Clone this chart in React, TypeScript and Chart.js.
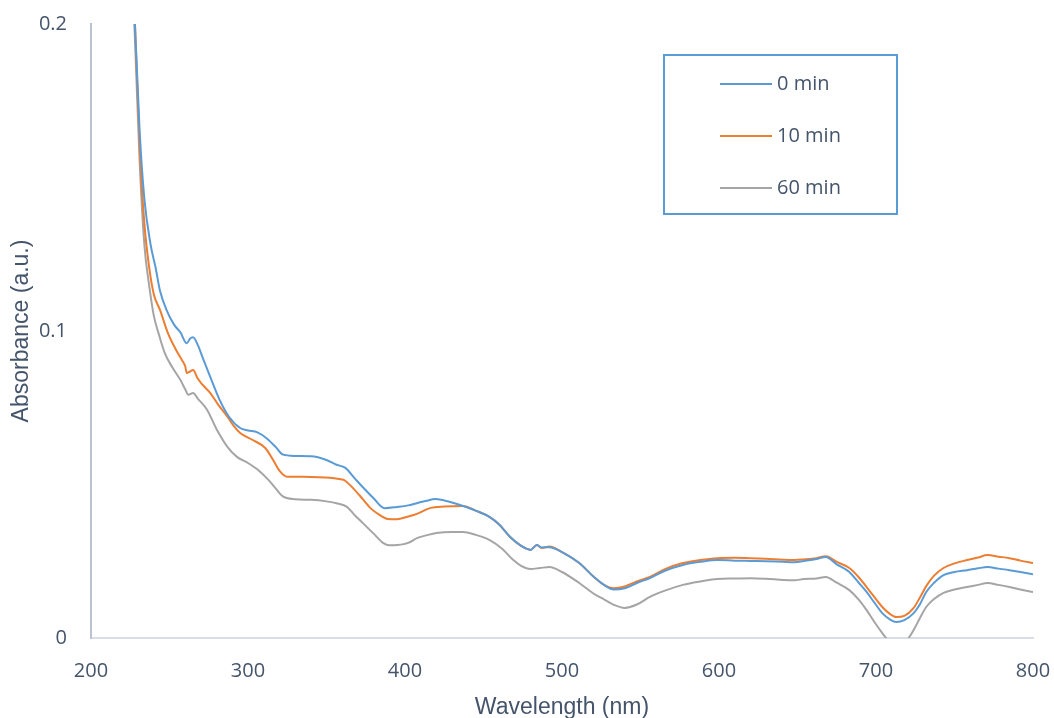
import React, { useEffect, useRef } from "react";
import { Chart, registerables } from "chart.js";

Chart.register(...registerables);

// ---- data ----
const wl0 = [225, 228, 231, 234, 238, 241, 244, 248, 253, 257, 261, 263, 265, 268, 271, 276, 282, 288, 295, 300, 306, 312, 318, 322, 330, 340, 350, 356, 362, 368, 373, 380, 387, 395, 402, 408, 414, 419, 425, 431, 437, 445, 454, 460, 467, 474, 480, 484, 487, 492, 500, 511, 520, 527, 533, 540, 548, 556, 566, 577, 588, 599, 610, 620, 630, 641, 648, 654, 662, 668, 675, 683, 689, 694, 699, 704, 709, 713, 718, 724, 728, 732, 737, 743, 750, 758, 765, 771, 778, 785, 792, 800];
const abs0 = [0.24, 0.2, 0.165, 0.143, 0.128, 0.121, 0.113, 0.107, 0.102, 0.0995, 0.096, 0.0975, 0.098, 0.0955, 0.0915, 0.085, 0.0775, 0.072, 0.0684, 0.0676, 0.067, 0.065, 0.062, 0.0598, 0.0593, 0.0592, 0.058, 0.0565, 0.0554, 0.052, 0.0492, 0.0455, 0.0423, 0.0427, 0.0432, 0.044, 0.0447, 0.0453, 0.0448, 0.044, 0.043, 0.0415, 0.0394, 0.037, 0.0329, 0.03, 0.0287, 0.0303, 0.0295, 0.0296, 0.028, 0.0244, 0.02, 0.0172, 0.0158, 0.0162, 0.018, 0.0195, 0.022, 0.0238, 0.0248, 0.0254, 0.0252, 0.0251, 0.025, 0.0248, 0.0247, 0.0251, 0.0257, 0.0264, 0.024, 0.0215, 0.018, 0.015, 0.0115, 0.0081, 0.006, 0.0052, 0.0058, 0.0081, 0.011, 0.015, 0.018, 0.0205, 0.0215, 0.0221, 0.0227, 0.0231, 0.0226, 0.0221, 0.0215, 0.0208];

const wl10 = [225, 228, 231, 234, 237, 240, 244, 249, 254, 258, 260, 261, 263, 265, 268, 271, 276, 281, 287, 291, 295, 303, 311, 316, 320, 325, 335, 345, 352, 358, 361, 365, 371, 378, 384, 389, 395, 401, 408, 416, 425, 437, 445, 454, 460, 467, 474, 480, 484, 487, 492, 500, 511, 520, 527, 533, 540, 548, 556, 566, 577, 588, 599, 610, 620, 630, 641, 648, 654, 662, 668, 675, 683, 689, 694, 699, 704, 709, 713, 718, 724, 728, 732, 737, 743, 750, 758, 765, 771, 778, 785, 792, 800];
const abs10 = [0.235, 0.2, 0.16, 0.135, 0.121, 0.112, 0.1068, 0.0993, 0.094, 0.0905, 0.0885, 0.0863, 0.0868, 0.0873, 0.0845, 0.0825, 0.0798, 0.076, 0.072, 0.069, 0.0668, 0.0645, 0.0619, 0.058, 0.0545, 0.0525, 0.0525, 0.0524, 0.0522, 0.0518, 0.0515, 0.0498, 0.0465, 0.0423, 0.04, 0.0388, 0.0387, 0.0394, 0.0405, 0.0423, 0.0428, 0.043, 0.0415, 0.0394, 0.037, 0.0329, 0.03, 0.0287, 0.0303, 0.0293, 0.0298, 0.028, 0.0244, 0.02, 0.0172, 0.0162, 0.0168, 0.0185, 0.0199, 0.0225, 0.0244, 0.0254, 0.026, 0.0261, 0.026, 0.0258, 0.0255, 0.0254, 0.0256, 0.026, 0.0266, 0.0248, 0.0228, 0.0198, 0.0166, 0.0133, 0.0101, 0.0078, 0.0068, 0.0072, 0.0098, 0.0132, 0.0169, 0.0203, 0.0228, 0.0243, 0.0254, 0.0262, 0.027, 0.0265, 0.026, 0.0252, 0.0244];

const wl60 = [225, 228, 231, 234, 237, 240, 243, 247, 252, 257, 260, 262, 265, 268, 274, 280, 287, 293, 300, 307, 313, 318, 322, 330, 340, 350, 357, 363, 368, 373, 380, 386, 390, 395, 402, 408, 414, 420, 430, 437, 445, 454, 462, 469, 474, 480, 486, 492, 500, 511, 520, 527, 533, 540, 548, 556, 566, 577, 588, 599, 610, 620, 630, 641, 648, 654, 662, 668, 675, 683, 689, 694, 699, 704, 709, 713, 717, 720, 724, 728, 732, 737, 743, 750, 758, 765, 771, 778, 785, 792, 800];
const abs60 = [0.23, 0.195, 0.155, 0.128, 0.115, 0.105, 0.0993, 0.0928, 0.088, 0.084, 0.081, 0.0792, 0.0798, 0.078, 0.0743, 0.068, 0.0622, 0.059, 0.057, 0.0545, 0.0515, 0.0485, 0.0462, 0.0452, 0.045, 0.0445, 0.0438, 0.0427, 0.04, 0.0375, 0.034, 0.031, 0.0302, 0.0303, 0.031, 0.0326, 0.0335, 0.0342, 0.0345, 0.0345, 0.0336, 0.0319, 0.029, 0.0254, 0.0235, 0.0225, 0.0228, 0.0231, 0.0215, 0.0179, 0.0145, 0.0125, 0.0108, 0.0098, 0.011, 0.0134, 0.0155, 0.0173, 0.0184, 0.0192, 0.0194, 0.0195, 0.0193, 0.0189, 0.0188, 0.0192, 0.0194, 0.0199, 0.018, 0.0156, 0.0125, 0.0091, 0.0052, 0.0016, -0.0016, -0.0035, -0.003, -0.0007, 0.0026, 0.0065, 0.0101, 0.0127, 0.0147, 0.0158, 0.0166, 0.0173, 0.0179, 0.0173, 0.0166, 0.0158, 0.015];

const seriesLabels = ["0 min", "10 min", "60 min"];
const seriesColors = ["#5b9bd5", "#ed7d31", "#a5a5a5"];
const xTicks = [200, 300, 400, 500, 600, 700, 800];
const yTicks = [0, 0.1, 0.2];

const TEXT = "#44546a";
const TICK_FONT = "'Open Sans', sans-serif";
const TITLE_FONT = "'Liberation Sans', Arial, sans-serif";

const toPts = (xs: number[], ys: number[]) => xs.map((x, i) => ({ x, y: ys[i] }));

const boxLegend = {
  id: "boxLegend",
  afterDraw(chart: any) {
    const ctx = chart.ctx;
    const ca = chart.chartArea;
    const bx = ca.left + 573;
    const by = ca.top + 31;
    const bw = 233;
    const bh = 159;
    ctx.save();
    ctx.fillStyle = "#ffffff";
    ctx.fillRect(bx, by, bw, bh);
    ctx.strokeStyle = "#5b9bd5";
    ctx.lineWidth = 2;
    ctx.strokeRect(bx, by, bw, bh);
    ctx.font = "20px " + TICK_FONT;
    ctx.textBaseline = "middle";
    ctx.textAlign = "left";
    chart.data.datasets.forEach((ds: any, i: number) => {
      const y = by + 29 + i * 52;
      ctx.strokeStyle = ds.borderColor;
      ctx.lineWidth = 2;
      ctx.beginPath();
      ctx.moveTo(bx + 56, y);
      ctx.lineTo(bx + 108, y);
      ctx.stroke();
      ctx.fillStyle = TEXT;
      ctx.fillText(ds.label, bx + 113, y);
    });
    ctx.restore();
  },
};

export default function App() {
  const ref = useRef<HTMLCanvasElement | null>(null);
  useEffect(() => {
    if (!ref.current) return;
    const chart = new Chart(ref.current, {
      type: "line",
      data: {
        datasets: [
          { label: seriesLabels[0], data: toPts(wl0, abs0), borderColor: seriesColors[0] },
          { label: seriesLabels[1], data: toPts(wl10, abs10), borderColor: seriesColors[1] },
          { label: seriesLabels[2], data: toPts(wl60, abs60), borderColor: seriesColors[2] },
        ].map((d) => ({
          ...d,
          backgroundColor: d.borderColor,
          borderWidth: 2,
          pointRadius: 0,
          fill: false,
          cubicInterpolationMode: "monotone" as const,
        })),
      },
      options: {
        animation: false,
        responsive: false,
        devicePixelRatio: 1,
        layout: { padding: { left: 0, right: 21, top: 24, bottom: 0 } },
        plugins: { legend: { display: false }, tooltip: { enabled: false } },
        scales: {
          x: {
            type: "linear",
            min: 200,
            max: 800,
            afterFit: (s: any) => { s.height = 80; s.paddingLeft = 0; s.paddingRight = 0; },
            afterBuildTicks: (s: any) => { s.ticks = xTicks.map((v) => ({ value: v })); },
            grid: { display: false, drawTicks: false },
            border: { display: true, color: "#d9dde6", width: 2 },
            ticks: { color: TEXT, font: { family: TICK_FONT, size: 20 }, padding: 21, maxRotation: 0 },
            title: {
              display: true,
              text: "Wavelength (nm)",
              color: TEXT,
              font: { family: TITLE_FONT, size: 23 },
              padding: { top: 0, bottom: -3 },
            },
          },
          y: {
            type: "linear",
            min: 0,
            max: 0.2,
            afterFit: (s: any) => { s.width = 91; s.paddingTop = 0; s.paddingBottom = 0; },
            afterBuildTicks: (s: any) => { s.ticks = yTicks.map((v) => ({ value: v })); },
            grid: { display: false, drawTicks: false },
            border: { display: true, color: "#b9c2d3", width: 2 },
            ticks: {
              color: TEXT,
              font: { family: TICK_FONT, size: 20 },
              padding: 24,
              callback: (v: any) => String(Number(v)),
            },
            title: {
              display: true,
              text: "Absorbance (a.u.)",
              color: TEXT,
              font: { family: TITLE_FONT, size: 23 },
              padding: { top: 8, bottom: 0 },
            },
          },
        },
      },
      plugins: [boxLegend],
    } as any);
    return () => chart.destroy();
  }, []);
  return (
    <div style={{ position: "absolute", left: 0, top: 0, width: 1054, height: 718, background: "#fff" }}>
      <canvas ref={ref} width={1054} height={718} style={{ display: "block" }} />
    </div>
  );
}
